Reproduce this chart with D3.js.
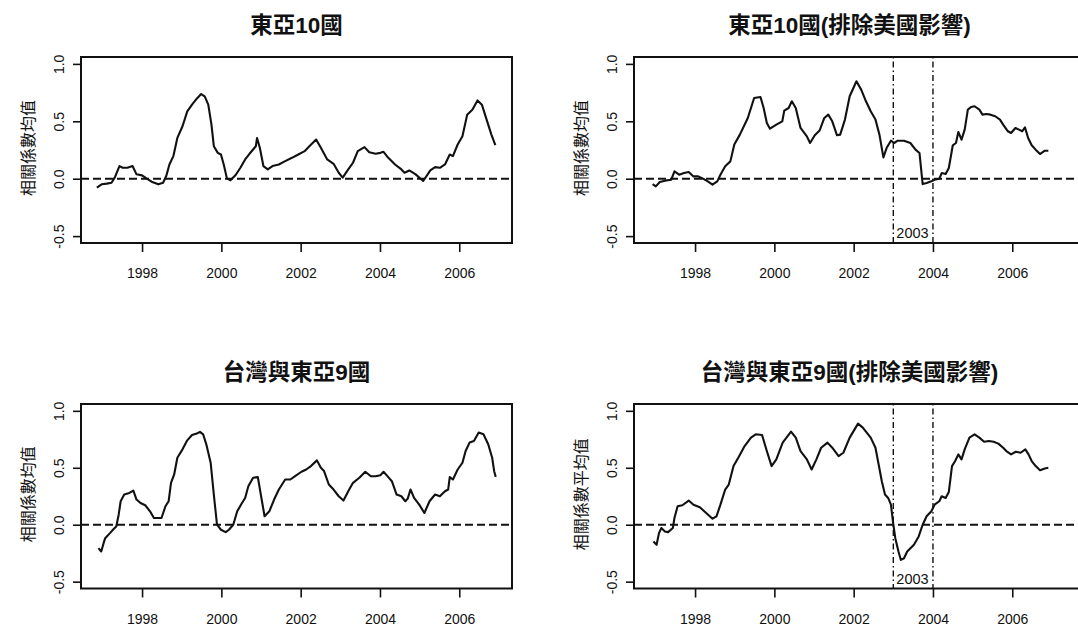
<!DOCTYPE html>
<html>
<head>
<meta charset="utf-8">
<script src="https://cdn.jsdelivr.net/npm/d3@7"></script>
<style>
  html, body { margin: 0; padding: 0; background: #fff; }
  svg { display: block; }
  .tick-label { font-family: "Liberation Sans", Arial, sans-serif; font-size: 14px; fill: #111; }
  .title { font-family: "Liberation Sans", "Noto Sans CJK TC", sans-serif; font-weight: bold; font-size: 22.5px; fill: #111; }
  .ylab { font-family: "Noto Sans CJK TC", sans-serif; font-size: 16px; fill: #111; }
</style>
</head>
<body>
<svg id="chart" width="1078" height="625"></svg>
<script>
// Rolling mean of pairwise correlation coefficients, East Asian markets.

// 東亞10國
const eastAsia10Years = [1996.86,1996.98,1997.11,1997.23,1997.31,1997.43,1997.51,1997.63,1997.76,1997.86,1998.00,1998.12,1998.24,1998.41,1998.53,1998.61,1998.69,1998.79,1998.89,1999.02,1999.14,1999.26,1999.38,1999.49,1999.58,1999.67,1999.75,1999.81,1999.91,1999.99,2000.06,2000.14,2000.23,2000.36,2000.48,2000.60,2000.71,2000.80,2000.87,2000.90,2000.97,2001.06,2001.17,2001.29,2001.45,2001.61,2001.78,2001.94,2002.10,2002.22,2002.39,2002.51,2002.67,2002.83,2002.96,2003.06,2003.20,2003.32,2003.44,2003.61,2003.73,2003.89,2004.01,2004.09,2004.21,2004.38,2004.54,2004.62,2004.74,2004.90,2005.09,2005.27,2005.39,2005.51,2005.64,2005.76,2005.84,2005.96,2006.08,2006.20,2006.33,2006.46,2006.57,2006.69,2006.81,2006.91];
const eastAsia10Values = [-0.078,-0.049,-0.043,-0.035,0.009,0.110,0.095,0.095,0.110,0.038,0.029,0.000,-0.026,-0.049,-0.035,0.023,0.124,0.197,0.355,0.457,0.587,0.645,0.697,0.737,0.717,0.645,0.471,0.283,0.225,0.211,0.124,0.003,-0.014,0.032,0.095,0.168,0.217,0.254,0.283,0.355,0.269,0.110,0.081,0.110,0.124,0.153,0.182,0.211,0.240,0.283,0.341,0.269,0.168,0.130,0.052,0.009,0.081,0.139,0.240,0.275,0.231,0.217,0.225,0.234,0.182,0.124,0.081,0.052,0.072,0.038,-0.020,0.072,0.101,0.095,0.124,0.211,0.197,0.298,0.370,0.558,0.601,0.682,0.645,0.514,0.384,0.292];

// 東亞10國(排除美國影響)
const eastAsia10ExUSYears = [1996.93,1997.01,1997.11,1997.24,1997.40,1997.48,1997.60,1997.72,1997.84,1997.96,1998.08,1998.20,1998.32,1998.44,1998.56,1998.64,1998.76,1998.89,1998.99,1999.13,1999.33,1999.49,1999.65,1999.73,1999.81,1999.89,2000.05,2000.20,2000.25,2000.36,2000.44,2000.54,2000.66,2000.82,2000.90,2001.02,2001.14,2001.26,2001.36,2001.46,2001.58,2001.66,2001.78,2001.90,2002.07,2002.19,2002.31,2002.43,2002.55,2002.65,2002.75,2002.83,2002.94,2003.02,2003.11,2003.27,2003.43,2003.56,2003.66,2003.74,2003.84,2003.96,2004.04,2004.16,2004.22,2004.32,2004.40,2004.50,2004.58,2004.64,2004.72,2004.80,2004.88,2004.96,2005.05,2005.17,2005.25,2005.35,2005.45,2005.57,2005.69,2005.77,2005.89,2005.97,2006.08,2006.17,2006.25,2006.32,2006.40,2006.49,2006.59,2006.70,2006.82,2006.91];
const eastAsia10ExUSValues = [-0.047,-0.067,-0.029,-0.017,-0.009,0.064,0.035,0.049,0.058,0.020,0.020,0.000,-0.023,-0.052,-0.023,0.035,0.108,0.151,0.297,0.384,0.529,0.703,0.712,0.616,0.485,0.436,0.471,0.500,0.593,0.616,0.674,0.616,0.442,0.369,0.311,0.378,0.419,0.529,0.558,0.500,0.378,0.384,0.515,0.718,0.849,0.776,0.674,0.587,0.515,0.384,0.186,0.267,0.331,0.311,0.331,0.331,0.311,0.253,0.224,-0.047,-0.038,-0.023,-0.009,0.000,0.049,0.041,0.093,0.291,0.311,0.407,0.340,0.427,0.602,0.625,0.631,0.602,0.558,0.564,0.558,0.544,0.515,0.471,0.413,0.398,0.442,0.427,0.413,0.448,0.355,0.291,0.253,0.215,0.244,0.244];

// 台灣與東亞9國
const taiwanEastAsia9Years = [1996.90,1996.97,1997.03,1997.07,1997.19,1997.29,1997.35,1997.41,1997.46,1997.55,1997.68,1997.78,1997.86,1997.96,1998.08,1998.20,1998.30,1998.49,1998.59,1998.67,1998.73,1998.81,1998.89,1999.02,1999.14,1999.26,1999.38,1999.46,1999.54,1999.62,1999.73,1999.81,1999.89,1999.99,2000.11,2000.19,2000.30,2000.40,2000.52,2000.60,2000.68,2000.80,2000.92,2001.01,2001.09,2001.21,2001.33,2001.45,2001.61,2001.74,2001.86,2002.02,2002.14,2002.26,2002.41,2002.51,2002.59,2002.71,2002.83,2002.96,2003.08,2003.20,2003.32,2003.48,2003.63,2003.77,2003.89,2004.01,2004.09,2004.21,2004.30,2004.42,2004.54,2004.64,2004.70,2004.77,2004.86,2004.99,2005.12,2005.25,2005.39,2005.51,2005.64,2005.72,2005.76,2005.84,2005.96,2006.08,2006.16,2006.26,2006.37,2006.49,2006.61,2006.73,2006.83,2006.88,2006.92];
const taiwanEastAsia9Values = [-0.206,-0.235,-0.162,-0.118,-0.074,-0.035,-0.015,0.088,0.206,0.265,0.279,0.300,0.221,0.191,0.171,0.118,0.059,0.059,0.162,0.206,0.368,0.441,0.588,0.662,0.741,0.788,0.800,0.815,0.794,0.706,0.544,0.265,0.000,-0.044,-0.065,-0.044,0.000,0.118,0.191,0.235,0.338,0.412,0.418,0.235,0.074,0.118,0.221,0.309,0.397,0.397,0.426,0.465,0.485,0.515,0.565,0.500,0.471,0.353,0.309,0.250,0.212,0.294,0.368,0.412,0.465,0.426,0.426,0.435,0.465,0.418,0.382,0.265,0.250,0.206,0.229,0.309,0.235,0.176,0.103,0.206,0.265,0.250,0.294,0.309,0.418,0.397,0.485,0.544,0.647,0.721,0.735,0.809,0.794,0.706,0.588,0.470,0.420];

// 台灣與東亞9國(排除美國影響)
const taiwanEastAsia9ExUSYears = [1996.95,1997.03,1997.09,1997.15,1997.24,1997.32,1997.44,1997.48,1997.56,1997.68,1997.84,1997.96,1998.12,1998.28,1998.44,1998.54,1998.64,1998.76,1998.85,1998.97,1999.09,1999.25,1999.41,1999.53,1999.69,1999.81,1999.93,2000.05,2000.21,2000.42,2000.54,2000.66,2000.82,2000.94,2001.06,2001.18,2001.34,2001.46,2001.62,2001.74,2001.90,2002.11,2002.23,2002.43,2002.55,2002.63,2002.71,2002.79,2002.87,2002.94,2002.99,2003.05,2003.13,2003.19,2003.27,2003.35,2003.52,2003.64,2003.74,2003.84,2003.96,2004.04,2004.16,2004.22,2004.32,2004.40,2004.48,2004.56,2004.64,2004.72,2004.80,2004.92,2005.05,2005.17,2005.29,2005.41,2005.53,2005.65,2005.77,2005.85,2005.97,2006.09,2006.21,2006.33,2006.41,2006.49,2006.59,2006.70,2006.82,2006.91];
const taiwanEastAsia9ExUSValues = [-0.147,-0.176,-0.074,-0.029,-0.059,-0.065,-0.029,0.059,0.162,0.171,0.212,0.176,0.153,0.103,0.053,0.074,0.176,0.309,0.353,0.515,0.588,0.691,0.765,0.794,0.788,0.647,0.515,0.574,0.721,0.818,0.765,0.647,0.574,0.485,0.574,0.676,0.721,0.676,0.603,0.632,0.765,0.888,0.853,0.765,0.676,0.529,0.382,0.265,0.235,0.176,0.029,-0.118,-0.235,-0.309,-0.294,-0.235,-0.176,-0.103,0.000,0.074,0.118,0.176,0.206,0.250,0.235,0.288,0.515,0.559,0.618,0.574,0.662,0.765,0.794,0.765,0.729,0.735,0.729,0.712,0.676,0.647,0.618,0.641,0.632,0.662,0.618,0.559,0.515,0.479,0.494,0.500];

const panelTitles = ["東亞10國", "東亞10國(排除美國影響)", "台灣與東亞9國", "台灣與東亞9國(排除美國影響)"];
const yAxisTitles = ["相關係數均值", "相關係數均值", "相關係數均值", "相關係數平均值"];
const xTickYears = [1998, 2000, 2002, 2004, 2006];
const yTickValues = [-0.5, 0.0, 0.5, 1.0];
const yTickLabels = ["-0.5", "0.0", "0.5", "1.0"];
const markerYears = [2003, 2004];
const markerLabel = "2003";

const seriesList = [
  { years: eastAsia10Years, values: eastAsia10Values, markers: false },
  { years: eastAsia10ExUSYears, values: eastAsia10ExUSValues, markers: true },
  { years: taiwanEastAsia9Years, values: taiwanEastAsia9Values, markers: false },
  { years: taiwanEastAsia9ExUSYears, values: taiwanEastAsia9ExUSValues, markers: true }
];

// Plot-region geometry for each of the 2x2 panels
const layout = [
  { left: 81,  top: 57,  bottom: 243,   width: 431 },
  { left: 634, top: 57,  bottom: 243,   width: 460 },
  { left: 81,  top: 404, bottom: 588.5, width: 431 },
  { left: 634, top: 404, bottom: 588.5, width: 460 }
];
const xDomain = [1996.46, 2007.33];
const xSpan = 431;
const yDomain = [-0.56, 1.06];

const svg = d3.select("#chart");

seriesList.forEach((s, i) => {
  const L = layout[i];
  const x = d3.scaleLinear().domain(xDomain).range([L.left, L.left + xSpan]);
  const y = d3.scaleLinear().domain(yDomain).range([L.bottom, L.top]);
  const right = L.left + L.width;
  const g = svg.append("g");

  // title
  const titleCx = L.left + xSpan / 2;
  g.append("text").attr("class", "title")
    .attr("x", titleCx).attr("y", L.top - 32)
    .attr("text-anchor", "middle").attr("dominant-baseline", "central")
    .text(panelTitles[i]);

  // y axis title
  const ymid = (L.top + L.bottom) / 2 - 2;
  g.append("text").attr("class", "ylab")
    .attr("transform", `translate(${L.left - 54},${ymid}) rotate(-90)`)
    .attr("text-anchor", "middle").attr("dominant-baseline", "central")
    .text(yAxisTitles[i]);

  // y axis
  const yAxis = d3.axisLeft(y).tickValues(yTickValues).tickSize(8)
    .tickFormat((d, k) => yTickLabels[k]);
  const ya = g.append("g").attr("transform", `translate(${L.left},0)`).call(yAxis);
  ya.select(".domain").remove();
  ya.selectAll(".tick line").attr("stroke", "#111").attr("stroke-width", 1.6);
  ya.selectAll(".tick text").attr("class", "tick-label")
    .attr("x", null).attr("dy", null)
    .attr("text-anchor", "middle").attr("dominant-baseline", "central")
    .attr("transform", "translate(-22,0) rotate(-90)");

  // x axis
  const xAxis = d3.axisBottom(x).tickValues(xTickYears).tickSize(9).tickFormat(d3.format("d"));
  const xa = g.append("g").attr("transform", `translate(0,${L.bottom})`).call(xAxis);
  xa.select(".domain").remove();
  xa.selectAll(".tick line").attr("stroke", "#111").attr("stroke-width", 1.6);
  xa.selectAll(".tick text").attr("class", "tick-label")
    .attr("y", 30).attr("dy", null).attr("dominant-baseline", "central");

  // zero reference line
  g.append("line")
    .attr("x1", L.left).attr("x2", right)
    .attr("y1", y(0)).attr("y2", y(0))
    .attr("stroke", "#111").attr("stroke-width", 2)
    .attr("stroke-dasharray", "8,4");

  // 2003 window markers
  if (s.markers) {
    markerYears.forEach(yr => {
      g.append("line")
        .attr("x1", x(yr)).attr("x2", x(yr))
        .attr("y1", L.top).attr("y2", L.bottom)
        .attr("stroke", "#111").attr("stroke-width", 1.4)
        .attr("stroke-dasharray", "1.5,3,6,3");
    });
    g.append("text").attr("class", "tick-label")
      .attr("x", x(markerYears[0]) + 3).attr("y", L.bottom - 5)
      .style("font-size", "14.5px")
      .text(markerLabel);
  }

  // series line
  const pts = s.years.map((yr, k) => [yr, s.values[k]]);
  const line = d3.line().x(d => x(d[0])).y(d => y(d[1]));
  g.append("path").datum(pts)
    .attr("d", line)
    .attr("fill", "none").attr("stroke", "#111")
    .attr("stroke-width", 2.1).attr("stroke-linejoin", "round");

  // plot frame
  g.append("rect")
    .attr("x", L.left).attr("y", L.top)
    .attr("width", L.width).attr("height", L.bottom - L.top)
    .attr("fill", "none").attr("stroke", "#111").attr("stroke-width", 2);
});
</script>
</body>
</html>
